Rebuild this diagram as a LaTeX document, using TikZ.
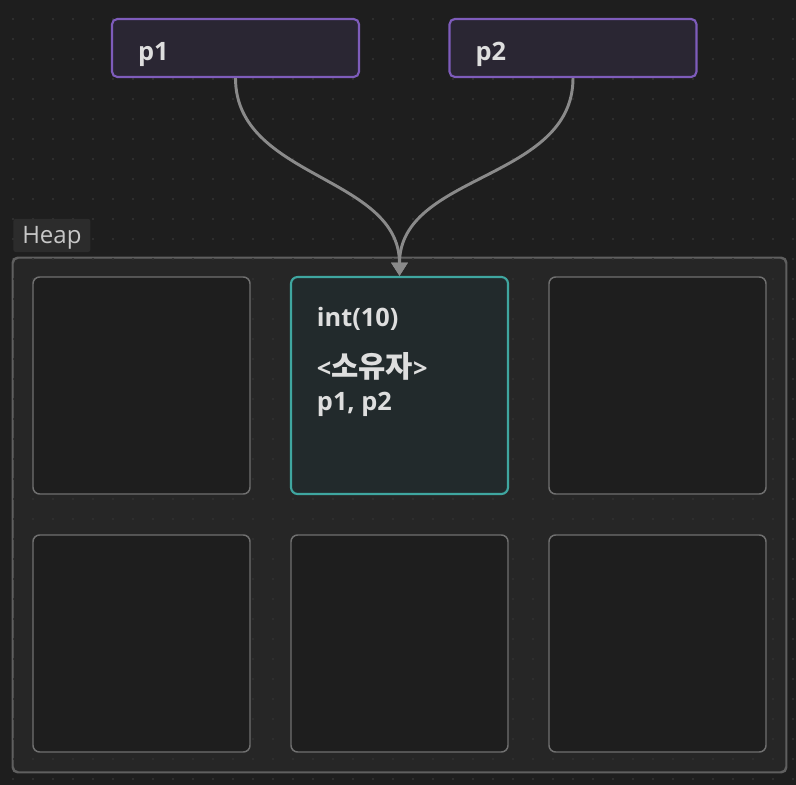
\documentclass[tikz,border=0pt]{standalone}
\usepackage{fontspec}
\setmainfont{Open Sans}
\newfontfamily\kofont[Scale=1.17]{Noto Sans CJK KR}
\usetikzlibrary{arrows.meta, positioning}

\definecolor{bgcol}{HTML}{1E1E1E}
\definecolor{dotcol}{HTML}{2E2E2E}
\definecolor{txtcol}{HTML}{DEDEDE}
\definecolor{ptrfill}{HTML}{2A2633}
\definecolor{ptrline}{HTML}{7E5CBB}
\definecolor{heapfill}{HTML}{262626}
\definecolor{heapline}{HTML}{5F5F5F}
\definecolor{cellline}{HTML}{707070}
\definecolor{objfill}{HTML}{222A2C}
\definecolor{objline}{HTML}{3FA6A0}
\definecolor{linkcol}{HTML}{8A8A8A}

\tikzset{
  ptrbox/.style={draw=ptrline, fill=ptrfill, line width=1.6pt, rounded corners=4pt,
    minimum width=185.25pt, minimum height=43.5pt, text width=146.25pt, align=left,
    inner xsep=19.5pt, inner ysep=0pt, text height=21pt, text depth=3pt,
    text=txtcol, font=\fontsize{19}{22}\selectfont\bfseries},
  cellbox/.style={draw=cellline, fill=bgcol, line width=1.1pt, rounded corners=5pt,
    minimum width=162.75pt, minimum height=162.75pt, inner sep=0pt},
  objbox/.style={cellbox, draw=objline, fill=objfill, line width=1.6pt},
  link/.style={draw=linkcol, line width=2.2pt, -{Triangle[length=10pt,width=12pt]}}
}

\begin{document}
\begin{tikzpicture}[x=0.75pt, y=-0.75pt]
  \useasboundingbox (0,0) rectangle (796,785);
  \fill[bgcol] (0,0) rectangle (796,785);
  % heap area
  \node[draw=heapline, fill=heapfill, line width=1.1pt, rounded corners=4pt,
    minimum width=579.75pt, minimum height=385.5pt] (heap) at (399.5,515) {};
  \node[fill=dotcol!70!heapfill, rounded corners=2pt, minimum width=57pt, minimum height=25pt,
    inner xsep=6.75pt, inner ysep=0pt, text height=14pt, text depth=2pt, anchor=north west,
    text=txtcol!90!black, font=\fontsize{18}{20}\selectfont] (heaplbl) at (13,218.5) {Heap};
  % dotted grid
  \foreach \i in {0,...,39}
    \foreach \j in {0,...,38}
      \fill[dotcol] (13.3+20*\i-1,19+20*\j-1) rectangle ++(2,2);
  \draw[heapline, line width=1.1pt, rounded corners=4pt] (heap.north west) rectangle (heap.south east);
  % cells
  \node[cellbox] (c11) at (141.5,385.5) {};
  \node[objbox]  (obj) at (399.5,385.5) {};
  \node[cellbox] (c13) at (657.5,385.5) {};
  \node[cellbox] (c21) at (141.5,643.5) {};
  \node[cellbox] (c22) at (399.5,643.5) {};
  \node[cellbox] (c23) at (657.5,643.5) {};
  \node[anchor=north west, inner sep=0pt, align=left, text=txtcol,
    font=\fontsize{19}{24.75}\selectfont\bfseries] (objtxt) at (316.7,306.7)
    {int(10)\\[13.5pt]<{\kofont 소유자}>\\p1, p2};
  % pointers
  \node[ptrbox] (p1) at (235.5,48) {p1};
  \node[ptrbox] (p2) at (573,48) {p2};
  \draw[link] (p1.south) to[out=-90, in=90] (obj.north);
  \draw[link] (p2.south) to[out=-90, in=90] (obj.north);
\end{tikzpicture}
\end{document}
